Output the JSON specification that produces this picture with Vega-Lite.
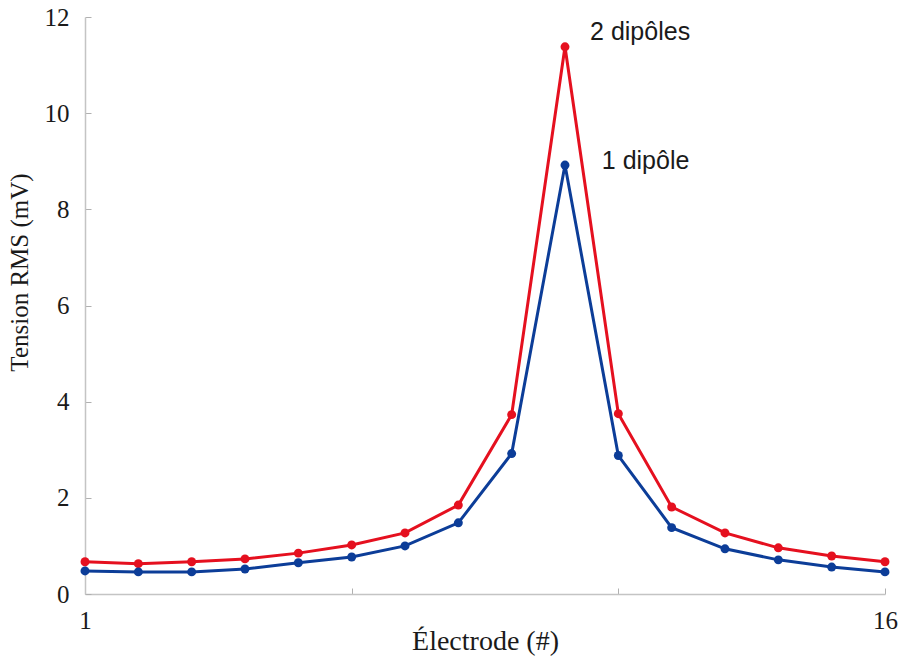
{
  "$schema": "https://vega.github.io/schema/vega-lite/v6.json",
  "width": 800,
  "height": 577,
  "autosize": {"type": "none"},
  "padding": {"left": 85, "top": 17, "right": 21, "bottom": 64},
  "background": "white",
  "config": {
    "view": {"stroke": null},
    "axis": {
      "grid": false,
      "domainColor": "#c4c4c4",
      "domainWidth": 1.5,
      "tickColor": "#b0b0b0",
      "tickWidth": 1,
      "tickSize": -6,
      "labelFont": "Liberation Serif",
      "labelFontSize": 25,
      "labelColor": "#1a1a1a",
      "titleFont": "Liberation Serif",
      "titleFontSize": 25,
      "titleFontWeight": "normal",
      "titleColor": "#1a1a1a"
    }
  },
  "datasets": {
    "series": [
      {"electrode": 1, "v": 0.67, "s": "2 dipôles"},
      {"electrode": 2, "v": 0.63, "s": "2 dipôles"},
      {"electrode": 3, "v": 0.67, "s": "2 dipôles"},
      {"electrode": 4, "v": 0.73, "s": "2 dipôles"},
      {"electrode": 5, "v": 0.85, "s": "2 dipôles"},
      {"electrode": 6, "v": 1.02, "s": "2 dipôles"},
      {"electrode": 7, "v": 1.27, "s": "2 dipôles"},
      {"electrode": 8, "v": 1.85, "s": "2 dipôles"},
      {"electrode": 9, "v": 3.73, "s": "2 dipôles"},
      {"electrode": 10, "v": 11.38, "s": "2 dipôles"},
      {"electrode": 11, "v": 3.75, "s": "2 dipôles"},
      {"electrode": 12, "v": 1.81, "s": "2 dipôles"},
      {"electrode": 13, "v": 1.27, "s": "2 dipôles"},
      {"electrode": 14, "v": 0.96, "s": "2 dipôles"},
      {"electrode": 15, "v": 0.79, "s": "2 dipôles"},
      {"electrode": 16, "v": 0.67, "s": "2 dipôles"},
      {"electrode": 1, "v": 0.48, "s": "1 dipôle"},
      {"electrode": 2, "v": 0.46, "s": "1 dipôle"},
      {"electrode": 3, "v": 0.46, "s": "1 dipôle"},
      {"electrode": 4, "v": 0.52, "s": "1 dipôle"},
      {"electrode": 5, "v": 0.65, "s": "1 dipôle"},
      {"electrode": 6, "v": 0.77, "s": "1 dipôle"},
      {"electrode": 7, "v": 1.0, "s": "1 dipôle"},
      {"electrode": 8, "v": 1.48, "s": "1 dipôle"},
      {"electrode": 9, "v": 2.92, "s": "1 dipôle"},
      {"electrode": 10, "v": 8.92, "s": "1 dipôle"},
      {"electrode": 11, "v": 2.88, "s": "1 dipôle"},
      {"electrode": 12, "v": 1.38, "s": "1 dipôle"},
      {"electrode": 13, "v": 0.94, "s": "1 dipôle"},
      {"electrode": 14, "v": 0.71, "s": "1 dipôle"},
      {"electrode": 15, "v": 0.56, "s": "1 dipôle"},
      {"electrode": 16, "v": 0.46, "s": "1 dipôle"}
    ],
    "labels": [
      {"electrode": 10.47, "v": 11.69, "text": "2 dipôles"},
      {"electrode": 10.69, "v": 9.0, "text": "1 dipôle"}
    ]
  },
  "layer": [
    {
      "data": {"name": "series"},
      "mark": {"type": "line", "strokeWidth": 3, "point": {"filled": true, "size": 80}},
      "encoding": {
        "x": {
          "field": "electrode", "type": "quantitative",
          "scale": {"domain": [1, 16], "nice": false, "zero": false},
          "axis": {
            "values": [1, 6, 11, 16],
            "labelExpr": "datum.value == 1 || datum.value == 16 ? datum.label : ''",
            "labelPadding": 20,
            "labelFlush": false,
            "title": "Électrode (#)",
            "titleFontSize": 28,
            "titlePadding": -6
          }
        },
        "y": {
          "field": "v", "type": "quantitative",
          "scale": {"domain": [0, 12], "nice": false},
          "axis": {
            "values": [0, 2, 4, 6, 8, 10, 12],
            "labelPadding": 22,
            "labelFlush": false,
            "title": "Tension RMS (mV)",
            "titleY": 255,
            "titlePadding": 12
          }
        },
        "color": {
          "field": "s", "type": "nominal",
          "scale": {"domain": ["2 dipôles", "1 dipôle"], "range": ["#e5101f", "#0c3d98"]},
          "legend": null
        },
        "order": {"field": "electrode"}
      }
    },
    {
      "data": {"name": "labels"},
      "mark": {"type": "text", "align": "left", "baseline": "middle", "font": "Liberation Sans", "fontSize": 25, "color": "#1a1a1a"},
      "encoding": {
        "x": {"field": "electrode", "type": "quantitative"},
        "y": {"field": "v", "type": "quantitative"},
        "text": {"field": "text"}
      }
    }
  ]
}
